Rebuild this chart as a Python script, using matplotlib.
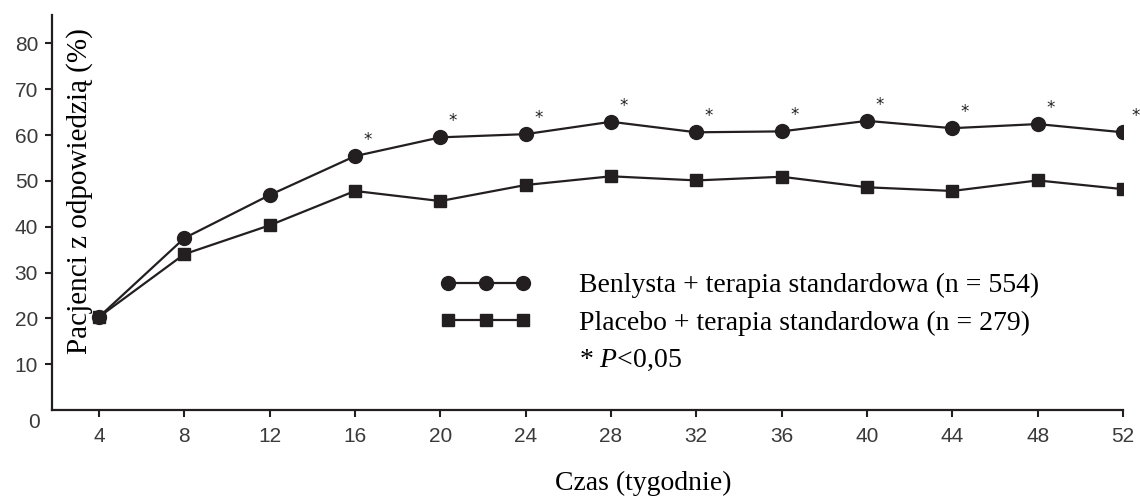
import matplotlib
matplotlib.use("Agg")
import matplotlib.pyplot as plt
from matplotlib.lines import Line2D

plt.rcParams['mathtext.fontset'] = 'custom'
plt.rcParams['mathtext.rm'] = 'Liberation Serif'
plt.rcParams['mathtext.it'] = 'Liberation Serif:italic'

# ---- data ----
weeks = [4, 8, 12, 16, 20, 24, 28, 32, 36, 40, 44, 48, 52]
benlysta = [20.3, 37.5, 46.9, 55.4, 59.5, 60.2, 62.9, 60.6, 60.8, 63.1, 61.5, 62.4, 60.6]
placebo = [20.3, 34.0, 40.3, 47.8, 45.6, 49.1, 51.0, 50.1, 50.9, 48.6, 47.8, 50.1, 48.2]
significant = [False, False, False, True, True, True, True, True, True, True, True, True, True]
y_ticks = [10, 20, 30, 40, 50, 60, 70, 80]
x_ticks = weeks

label_benlysta = "Benlysta + terapia standardowa (n = 554)"
label_placebo = "Placebo + terapia standardowa (n = 279)"
label_sig = "* $\\it{P}$<0,05"
ylabel = "Pacjenci z odpowiedzią (%)"
xlabel = "Czas (tygodnie)"

serif = "Liberation Serif"
sans = "Liberation Sans"
ink = "#231f20"
FS = 20

fig = plt.figure(figsize=(11.4, 4.98), dpi=100)
ax = fig.add_axes([52 / 1140, (498 - 410) / 498, (1123 - 52) / 1140, (410 - 15) / 498])

ax.plot(weeks, benlysta, color=ink, lw=1.6, marker='o', ms=10, mfc=ink, mec=ink, zorder=3)
ax.plot(weeks, placebo, color=ink, lw=1.6, marker='s', ms=8, mfc=ink, mec=ink, zorder=4)

for w, v, s in zip(weeks, benlysta, significant):
    if s:
        ax.annotate("*", xy=(w, v), xytext=(6, 5), textcoords='offset points',
                    ha='left', va='bottom', fontsize=12, family='DejaVu Sans', color=ink)

ax.set_xlim(1.8, 52)
ax.set_ylim(0, 86.2)
ax.set_xticks(x_ticks)
ax.set_xticklabels([str(t) for t in x_ticks])
ax.set_yticks(y_ticks)
ax.set_yticklabels([str(t) for t in y_ticks])
ax.tick_params(axis='both', direction='out', length=5, width=1.5, color=ink,
               labelsize=15, labelcolor='#3a3a3a', pad=5)
ax.tick_params(axis='x', pad=7)
for lab in ax.get_xticklabels() + ax.get_yticklabels():
    lab.set_family(sans)

for sp in ['top', 'right']:
    ax.spines[sp].set_visible(False)
for sp in ['left', 'bottom']:
    ax.spines[sp].set_linewidth(1.6)
    ax.spines[sp].set_color(ink)

ax.annotate("0", xy=(0, 0), xycoords='axes fraction', xytext=(-13, -9),
            textcoords='offset points', ha='center', va='center',
            fontsize=15, family=sans, color='#3a3a3a')

ax.set_ylabel(ylabel, family=serif, fontsize=21, color='black')
ax.yaxis.set_label_coords(0.038, 0.555)
ax.set_xlabel(xlabel, family=serif, fontsize=FS, color='black')
ax.xaxis.set_label_coords((643 - 52) / 1071, -0.155)

handles = [
    Line2D([], [], color=ink, lw=1.6, marker='o', ms=10, mfc=ink, mec=ink),
    Line2D([], [], color=ink, lw=1.6, marker='s', ms=8, mfc=ink, mec=ink),
    Line2D([], [], color='none', lw=0),
]
leg = ax.legend(handles, [label_benlysta, label_placebo, label_sig],
                loc='upper left', bbox_to_anchor=((440 - 52) / 1071, (410 - 273) / 395),
                frameon=False, numpoints=3, handlelength=3.3, handletextpad=1.7,
                labelspacing=0.42, borderaxespad=0, borderpad=0,
                prop={'family': serif, 'size': FS})

fig.savefig("out.png", dpi=100)
